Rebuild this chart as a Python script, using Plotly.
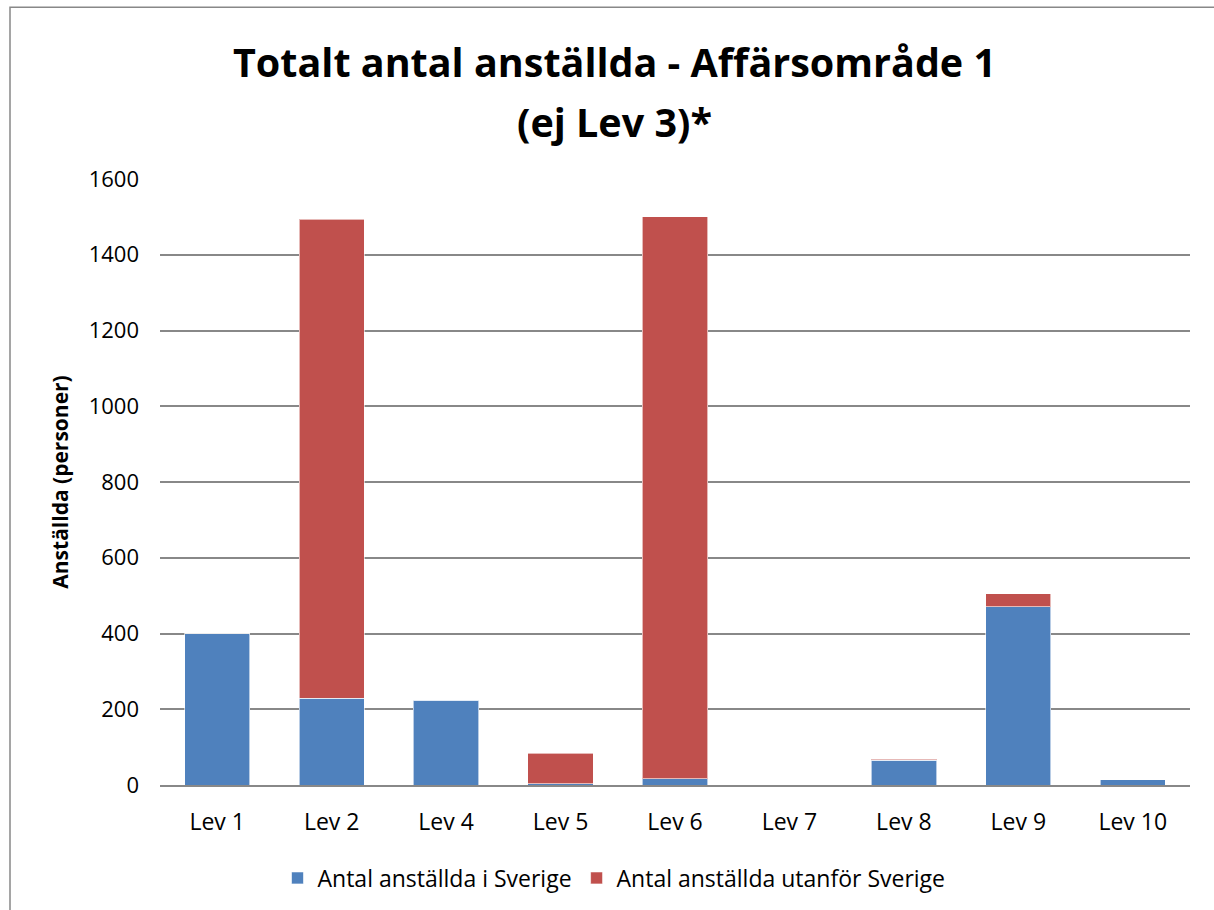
import plotly.graph_objects as go

categories = ["Lev 1", "Lev 2", "Lev 4", "Lev 5", "Lev 6", "Lev 7", "Lev 8", "Lev 9", "Lev 10"]
sverige = [400, 229, 224, 3, 16, 0, 66, 470, 14]
utanfor = [0, 1265, 0, 81, 1484, 0, 2, 35, 0]
y_ticks = [0, 200, 400, 600, 800, 1000, 1200, 1400, 1600]
title_lines = ["Totalt antal anställda - Affärsområde 1", "(ej Lev 3)*"]

BLUE = "#4F81BD"
RED = "#C0504D"
FONT = "Open Sans"

W, H = 1214, 910
L, R, T, B = 160, 24, 179, 124
PW, PH = W - L - R, H - T - B


def px_x(x):
    return (x - L) / PW


def px_y(y):
    return (H - B - y) / PH


fig = go.Figure()
fig.add_trace(go.Bar(name="Antal anställda i Sverige", x=categories, y=sverige,
                     marker=dict(color=BLUE, line=dict(color="rgba(255,255,255,0.6)", width=1))))
fig.add_trace(go.Bar(name="Antal anställda utanför Sverige", x=categories, y=utanfor,
                     marker=dict(color=RED, line=dict(color="rgba(255,255,255,0.6)", width=1))))

fig.update_layout(
    barmode="stack",
    bargap=0.43,
    width=W, height=H,
    margin=dict(l=L, r=R, t=T, b=B),
    paper_bgcolor="white", plot_bgcolor="white",
    font=dict(family=FONT, color="black"),
    legend=dict(orientation="h", x=px_x(614), xanchor="center", y=px_y(878), yanchor="middle",
                font=dict(family=FONT, size=23), traceorder="normal",
                itemwidth=30, tracegroupgap=0),
    showlegend=True,
)
for line, ypix in zip(title_lines, [62, 122]):
    fig.add_annotation(text="<b>" + line + "</b>", xref="paper", yref="paper",
                       x=px_x(614), y=px_y(ypix), xanchor="center", yanchor="middle",
                       showarrow=False, font=dict(family=FONT, size=39.5, color="black"))

fig.update_xaxes(showgrid=False, showline=True, linecolor="#888888", linewidth=2,
                 ticks="", tickfont=dict(size=23, family=FONT), ticklabelstandoff=15)
fig.update_yaxes(range=[0, 1600], tickvals=y_ticks, showgrid=True, gridcolor="#888888",
                 gridwidth=1.5, zeroline=False, showline=False,
                 ticks="", tickfont=dict(size=22, family=FONT), ticklabelstandoff=20,
                 title=dict(text="<b>Anställda (personer)</b>", font=dict(size=21, family=FONT),
                            standoff=14))

# outer chart border
fig.add_shape(type="rect", xref="paper", yref="paper",
              x0=px_x(10), x1=1.5, y0=-0.5, y1=px_y(7),
              line=dict(color="#888888", width=1.5), fillcolor="rgba(0,0,0,0)", layer="below")

fig.write_html("out.html", config={"displayModeBar": False},
               post_script="document.body.style.margin='0';")
